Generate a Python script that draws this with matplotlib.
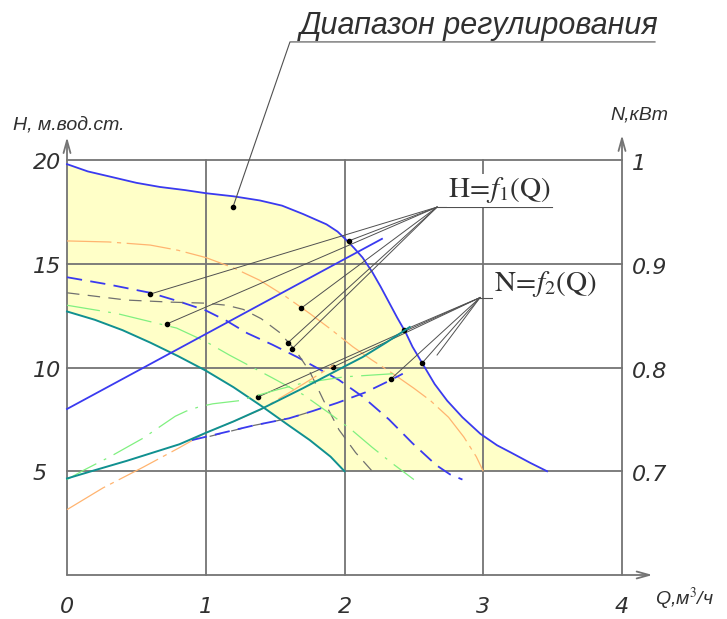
import matplotlib.pyplot as plt

plt.rcParams['lines.scale_dashes'] = False
plt.rcParams['mathtext.fontset'] = 'stix'

# head curves H = f1(Q), m
q_h_max = [0, 0.15, 0.31, 0.5, 0.67, 0.85, 1.0, 1.2, 1.39, 1.55, 1.7, 1.87, 1.95, 2.02, 2.07, 2.13, 2.2,
           2.26, 2.32, 2.38, 2.44, 2.49, 2.57, 2.65, 2.74, 2.85, 2.98, 3.1, 3.2, 3.34, 3.46]
h_max = [19.8, 19.45, 19.2, 18.9, 18.7, 18.55, 18.4, 18.25, 18.05, 17.8, 17.4, 16.9, 16.55, 16.1, 15.75, 15.3, 14.6,
         13.9, 13.15, 12.4, 11.7, 11.0, 10.1, 9.2, 8.4, 7.6, 6.8, 6.25, 5.9, 5.4, 5.0]

q_h_orange = [0, 0.3, 0.6, 0.8, 1.0, 1.2, 1.39, 1.57, 1.75, 1.9, 2.06, 2.2, 2.35, 2.5, 2.62, 2.75, 2.86, 2.95, 3.0]
h_orange = [16.1, 16.05, 15.9, 15.65, 15.3, 14.8, 14.2, 13.45, 12.6, 11.85, 11.0, 10.35, 9.7, 9.0, 8.4, 7.6, 6.65, 5.7, 5.0]

q_h_bdash = [0, 0.3, 0.6, 0.8, 1.0, 1.15, 1.3, 1.48, 1.66, 1.81, 1.96, 2.13, 2.32, 2.49, 2.66, 2.76, 2.85]
h_bdash = [14.35, 14.0, 13.6, 13.2, 12.75, 12.25, 11.65, 11.1, 10.5, 9.95, 9.4, 8.6, 7.5, 6.35, 5.3, 4.85, 4.6]

q_h_gray = [0, 0.43, 0.75, 1.0, 1.15, 1.27, 1.4, 1.53, 1.65, 1.75, 1.85, 1.96, 2.08, 2.2]
h_gray = [13.6, 13.25, 13.15, 13.1, 13.0, 12.8, 12.35, 11.7, 10.8, 9.8, 8.4, 7.0, 5.9, 5.0]

q_h_green = [0, 0.36, 0.79, 1.0, 1.17, 1.48, 1.7, 1.89, 2.05, 2.2, 2.35, 2.5]
h_green = [13.0, 12.6, 11.9, 11.25, 10.6, 9.5, 8.7, 7.8, 7.0, 6.15, 5.35, 4.6]

q_h_min = [0, 0.2, 0.4, 0.6, 0.8, 1.0, 1.2, 1.4, 1.6, 1.75, 1.9, 2.0]
h_min = [12.7, 12.3, 11.8, 11.2, 10.55, 9.85, 9.05, 8.15, 7.2, 6.5, 5.7, 5.0]

# power curves N = f2(Q), kW
q_n_blue = [0, 2.27]
n_blue = [0.76, 0.924]

q_n_teal = [0, 0.2, 0.43, 0.62, 0.81, 1.0, 1.2, 1.4, 1.7, 2.0, 2.13, 2.3, 2.47]
n_teal = [0.693, 0.701, 0.71, 0.718, 0.726, 0.737, 0.748, 0.76, 0.78, 0.801, 0.81, 0.824, 0.839]

q_n_orange = [0, 0.26, 0.55, 0.8, 1.0, 1.2, 1.39, 1.63, 1.92]
n_orange = [0.663, 0.684, 0.704, 0.722, 0.737, 0.748, 0.759, 0.778, 0.802]

q_n_green = [0, 0.12, 0.31, 0.55, 0.67, 0.78, 0.86, 0.95, 1.05, 1.24, 1.5, 1.7, 2.0, 2.35]
n_green = [0.692, 0.701, 0.714, 0.732, 0.743, 0.753, 0.758, 0.762, 0.765, 0.768, 0.778, 0.785, 0.791, 0.794]

q_n_bdash = [0.9, 1.34, 1.6, 1.77, 1.95, 2.15, 2.32, 2.42]
n_bdash = [0.73, 0.744, 0.751, 0.758, 0.766, 0.776, 0.787, 0.794]

q_n_gray = [0.95, 1.34, 1.6, 1.77]
n_gray = [0.731, 0.744, 0.751, 0.758]

# leader line targets (Q, H)
h_label_pts = [(2.03, 16.1), (1.69, 12.87), (1.59, 11.18), (1.62, 10.89), (0.6, 13.54), (0.72, 12.1)]
n_label_pts = [(2.43, 11.81), (2.56, 10.22), (2.335, 9.45), (1.917, 10.02), (1.377, 8.58)]
range_pt = (1.196, 17.73)

x_ticks = [0, 1, 2, 3, 4]
h_ticks = [5, 10, 15, 20]
n_ticks = ['0.7', '0.8', '0.9', '1']

BLUE = '#3a3af0'
TEAL = '#109090'
ORANGE = '#ffb470'
GREEN = '#80f080'
GRAY = '#707070'
GRID = '#747474'
LEAD = '#505050'

fig = plt.figure(figsize=(7.27, 6.19), dpi=100)
ax = fig.add_axes([0, 0, 1, 1])
ax.set_xlim(-67 / 138.75, 660 / 138.75)
ax.set_ylim(-44 / 20.75, 575 / 20.75)
ax.axis('off')

ax2 = ax.twinx()
lo, hi = ax.get_ylim()
ax2.set_ylim(0.7 + (lo - 5) * 0.02, 0.7 + (hi - 5) * 0.02)
ax2.axis('off')

# regulation range fill
poly_x = list(q_h_max) + [2.0] + q_h_min[::-1]
poly_y = list(h_max) + [5.0] + h_min[::-1]
ax.fill(poly_x, poly_y, color='#ffffc8', zorder=1, lw=0)

# grid
for x in x_ticks[1:4]:
    ax.plot([x, x], [0, 20], color=GRID, lw=1.3, zorder=2)
for h in h_ticks:
    ax.plot([0, 4], [h, h], color=GRID, lw=1.3, zorder=2)

# axes with open arrows
arr = dict(arrowstyle='->,head_length=0.9,head_width=0.25', color=GRID, lw=1.3, shrinkA=0, shrinkB=0)
ax.annotate('', xy=(0, 21.1), xytext=(0, 0), arrowprops=arr, zorder=2)
ax.annotate('', xy=(4, 21.2), xytext=(4, 0), arrowprops=arr, zorder=2)
ax.annotate('', xy=(4.22, 0), xytext=(0, 0), arrowprops=arr, zorder=2)

# head curves
ax.plot(q_h_max, h_max, color=BLUE, lw=1.3, zorder=4)
ax.plot(q_h_orange, h_orange, color=ORANGE, lw=0.9, dashes=(32, 4, 3, 4), zorder=4)
ax.plot(q_h_bdash, h_bdash, color=BLUE, lw=1.3, dashes=(11, 6), zorder=4)
ax.plot(q_h_gray, h_gray, color=GRAY, lw=0.9, dashes=(9, 6), zorder=4)
ax.plot(q_h_green, h_green, color=GREEN, lw=0.9, dashes=(24, 6, 2, 6), zorder=4)
ax.plot(q_h_min, h_min, color=TEAL, lw=1.4, zorder=4)

# leader lines
hx, hy = 2.667, 17.73
for px, py in h_label_pts:
    ax.plot([hx, px], [hy, py], color=LEAD, lw=0.7, zorder=5)
    ax.plot(px, py, 'o', color='black', ms=3, zorder=6)
ax.plot([hx, 3.495], [hy, hy], color=LEAD, lw=0.8, zorder=5)

nx, ny = 2.977, 13.37
for px, py in n_label_pts:
    ax.plot([nx, px], [ny, py], color=LEAD, lw=0.7, zorder=5)
    ax.plot(px, py, 'o', color='black', ms=3, zorder=6)
ax.plot([nx, 2.667], [ny, 10.6], color=LEAD, lw=0.7, zorder=5)
ax.plot([nx, 3.82], [ny, ny], color=LEAD, lw=0.8, zorder=5)

ax.plot([range_pt[0], 1.607, 4.238], [range_pt[1], 25.69, 25.69], color=LEAD, lw=0.8, zorder=5)
ax.plot(*range_pt, 'o', color='black', ms=3, zorder=6)

# power curves on the kW scale
ax2.plot(q_n_blue, n_blue, color=BLUE, lw=1.3)
ax2.plot(q_n_green, n_green, color=GREEN, lw=0.9, dashes=(24, 6, 2, 6))
ax2.plot(q_n_orange, n_orange, color=ORANGE, lw=0.9, dashes=(32, 4, 3, 4))
ax2.plot(q_n_gray, n_gray, color=GRAY, lw=0.9, linestyle=(8, (8, 8)))
ax2.plot(q_n_bdash, n_bdash, color=BLUE, lw=1.3, dashes=(11, 6))
ax2.plot(q_n_teal, n_teal, color=TEAL, lw=1.4)

# labels
ital = dict(family='DejaVu Sans', style='italic', color='#303030')
narrow = dict(family=['Liberation Sans', 'DejaVu Sans'], style='italic', color='#303030')

ax.text(1.68, 26.05, 'Диапазон регулирования', fontsize=22, va='baseline', ha='left', **narrow)
ax.text(-0.389, 21.45, 'H, м.вод.ст.', fontsize=14, va='baseline', ha='left', **narrow)
ax.text(3.914, 21.93, 'N,кВт', fontsize=14, va='baseline', ha='left', **narrow)
ax.text(4.238, -1.45, 'Q,м$^{3}$/ч', fontsize=14, va='baseline', ha='left', **narrow)

ax.text(3.12, 18.2, r'$\mathrm{H\!=\!}f_{1}\mathrm{(Q)}$', fontsize=21, ha='center', va='baseline',
        color='#303030', zorder=7,
        bbox=dict(boxstyle='square,pad=0.05', fc='white', ec='none'))
ax.text(3.45, 13.7, r'$\mathrm{N\!=\!}f_{2}\mathrm{(Q)}$', fontsize=21, ha='center', va='baseline',
        color='#303030', zorder=7,
        bbox=dict(boxstyle='square,pad=0.05', fc='white', ec='none'))

for h in h_ticks:
    ax.text(-0.245, h - 0.15, str(h), fontsize=16, ha='left', va='center', **ital)
for h, lab in zip(h_ticks, n_ticks):
    ax.text(4.072, h - 0.2, lab, fontsize=16, ha='left', va='center', **ital)
for x in x_ticks:
    ax.text(x, -1.54, str(x), fontsize=16, ha='center', va='center', **ital)

fig.savefig('out.png', dpi=100)
